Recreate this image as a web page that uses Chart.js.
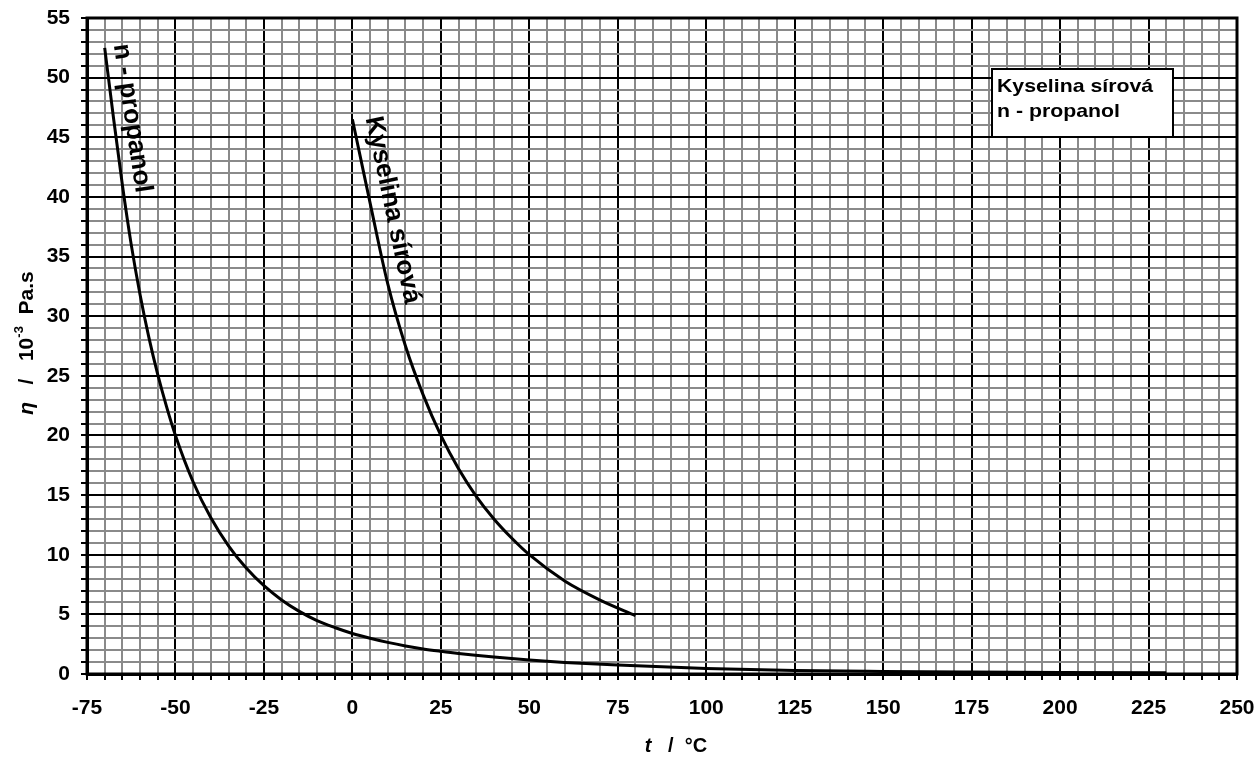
<!DOCTYPE html>
<html>
<head>
<meta charset="utf-8">
<script src="https://cdn.jsdelivr.net/npm/chart.js@4.4.0/dist/chart.umd.min.js"></script>
<style>
  html, body { margin: 0; padding: 0; background: #ffffff; }
  #wrap { width: 1260px; height: 764px; }
</style>
</head>
<body>
<div id="wrap"><canvas id="c" width="1260" height="764"></canvas></div>
<script>
// ---- data ----
const seriesNames = ["Kyselina sírová", "n - propanol"];
const sulfuricT   = [0, 2.5, 5, 10, 15, 20, 25, 30, 35, 40, 45, 50, 60, 70, 80];
const sulfuricEta = [46.5, 43, 39.5, 32.7, 27.5, 23.4, 20, 17.2, 14.9, 13, 11.4, 10, 7.8, 6.2, 4.9];
const propanolT   = [-70, -67.5, -65, -62.5, -60, -57.5, -55, -52.5, -50, -45, -40, -35, -30, -25, -20, -15, -10, -5, 0, 5, 10, 15, 20, 25, 30, 40, 50, 60, 75, 100, 125, 150, 175, 200, 230];
const propanolEta = [52.5, 46.6, 41, 36, 31.8, 28.2, 25.1, 22.4, 20, 16.1, 13.1, 10.75, 8.88, 7.4, 6.21, 5.25, 4.48, 3.9, 3.4, 3.0, 2.65, 2.35, 2.1, 1.9, 1.72, 1.42, 1.17, 0.97, 0.75, 0.47, 0.3, 0.22, 0.17, 0.13, 0.1];
const xMin = -75, xMax = 250, xMinorStep = 5, xMajorStep = 25;
const yMin = 0, yMax = 55, yMinorStep = 1, yMajorStep = 5;
const xTitleParts = [["t", "italic"], ["   /  °C", ""]];
const yTitleParts = [["η", "italic"], ["   /   10", ""], ["-3", "sup"], ["  Pa.s", ""]];
// in-plot curve labels: [text, t, eta, angle in degrees]
const curveLabels = [["n - propanol", -62.3, 46.6, 81.5], ["Kyselina sírová", 11.3, 38.9, 78]];

const toPts = (xs, ys) => xs.map((x, i) => ({ x: x, y: ys[i] }));
const FONT = "'Liberation Sans', Arial, sans-serif";

const decorations = {
  id: "decorations",
  afterDraw(chart) {
    const ctx = chart.ctx, a = chart.chartArea;
    const sx = chart.scales.x, sy = chart.scales.y;
    ctx.save();
    // plot frame
    ctx.strokeStyle = "#000"; ctx.lineWidth = 3;
    ctx.strokeRect(a.left, a.top, a.right - a.left, a.bottom - a.top);

    // curve labels
    ctx.fillStyle = "#000";
    ctx.font = "bold 26px " + FONT;
    ctx.textAlign = "center"; ctx.textBaseline = "middle";
    curveLabels.forEach(l => {
      ctx.save();
      ctx.translate(sx.getPixelForValue(l[1]), sy.getPixelForValue(l[2]));
      ctx.rotate(l[3] * Math.PI / 180);
      ctx.fillText(l[0], 0, 0);
      ctx.restore();
    });

    // legend box
    const bl = a.left + 905, bt = a.top + 51, bw = 181, bh = 68;
    ctx.fillStyle = "#fff"; ctx.fillRect(bl, bt, bw, bh);
    ctx.strokeStyle = "#000"; ctx.lineWidth = 2; ctx.strokeRect(bl, bt, bw, bh);
    ctx.fillStyle = "#000"; ctx.textAlign = "left"; ctx.textBaseline = "alphabetic";
    ctx.font = "bold 19px " + FONT;
    seriesNames.forEach((n, i) => {
      ctx.save();
      ctx.translate(bl + 5, bt + 23 + i * 25);
      ctx.scale(1.12, 1);
      ctx.fillText(n, 0, 0);
      ctx.restore();
    });

    // rich axis titles
    function drawRich(parts, cx, cy, rot, size) {
      const fontOf = p => p[1] === "italic" ? "italic bold " + size + "px " + FONT : (p[1] === "sup" ? "bold " + Math.round(size * 0.62) + "px " + FONT : "bold " + size + "px " + FONT);
      let total = 0;
      parts.forEach(p => { ctx.font = fontOf(p); total += ctx.measureText(p[0]).width; });
      ctx.save();
      ctx.translate(cx, cy); ctx.rotate(rot);
      ctx.textAlign = "left"; ctx.textBaseline = "middle";
      let x = -total / 2;
      parts.forEach(p => {
        ctx.font = fontOf(p);
        ctx.fillText(p[0], x, p[1] === "sup" ? -size * 0.38 : 0);
        x += ctx.measureText(p[0]).width;
      });
      ctx.restore();
    }
    drawRich(xTitleParts, 676, 746, 0, 20);
    drawRich(yTitleParts, 27, 343, -Math.PI / 2, 21);
    ctx.restore();
  }
};

const gridColor = (major) => (c) => (Math.abs(c.tick.value % major) < 1e-9 ? "#000000" : "#8a8a8a");

new Chart(document.getElementById("c"), {
  type: "line",
  data: {
    datasets: [
      { label: seriesNames[0], data: toPts(sulfuricT, sulfuricEta), borderColor: "#000", borderWidth: 3, pointRadius: 0, cubicInterpolationMode: "monotone", fill: false },
      { label: seriesNames[1], data: toPts(propanolT, propanolEta), borderColor: "#000", borderWidth: 3, pointRadius: 0, cubicInterpolationMode: "monotone", fill: false }
    ]
  },
  options: {
    responsive: false,
    animation: false,
    layout: { padding: { top: 18, right: 23, left: 0, bottom: 0 } },
    plugins: { legend: { display: false }, tooltip: { enabled: false }, title: { display: false } },
    scales: {
      x: {
        type: "linear", min: xMin, max: xMax,
        afterFit(s) { s.height = 90; s.paddingLeft = 0; s.paddingRight = 0; },
        ticks: {
          stepSize: xMinorStep, autoSkip: false, maxRotation: 0, padding: 16,
          color: "#000", font: { family: FONT, size: 21, weight: "bold" },
          callback: v => (Math.abs(v % xMajorStep) < 1e-9 ? String(v) : "")
        },
        grid: { color: gridColor(xMajorStep), lineWidth: 2, tickLength: 6, tickColor: "#000", tickWidth: 2 },
        border: { color: "#000", width: 3 }
      },
      y: {
        type: "linear", min: yMin, max: yMax,
        afterFit(s) { s.width = 87; s.paddingTop = 0; s.paddingBottom = 0; },
        ticks: {
          stepSize: yMinorStep, autoSkip: false, padding: 11,
          color: "#000", font: { family: FONT, size: 21, weight: "bold" },
          callback: v => (Math.abs(v % yMajorStep) < 1e-9 ? String(v) : "")
        },
        grid: { color: gridColor(yMajorStep), lineWidth: 2, tickLength: 6, tickColor: "#000", tickWidth: 2 },
        border: { color: "#000", width: 3 }
      }
    }
  },
  plugins: [decorations]
});
</script>
</body>
</html>
